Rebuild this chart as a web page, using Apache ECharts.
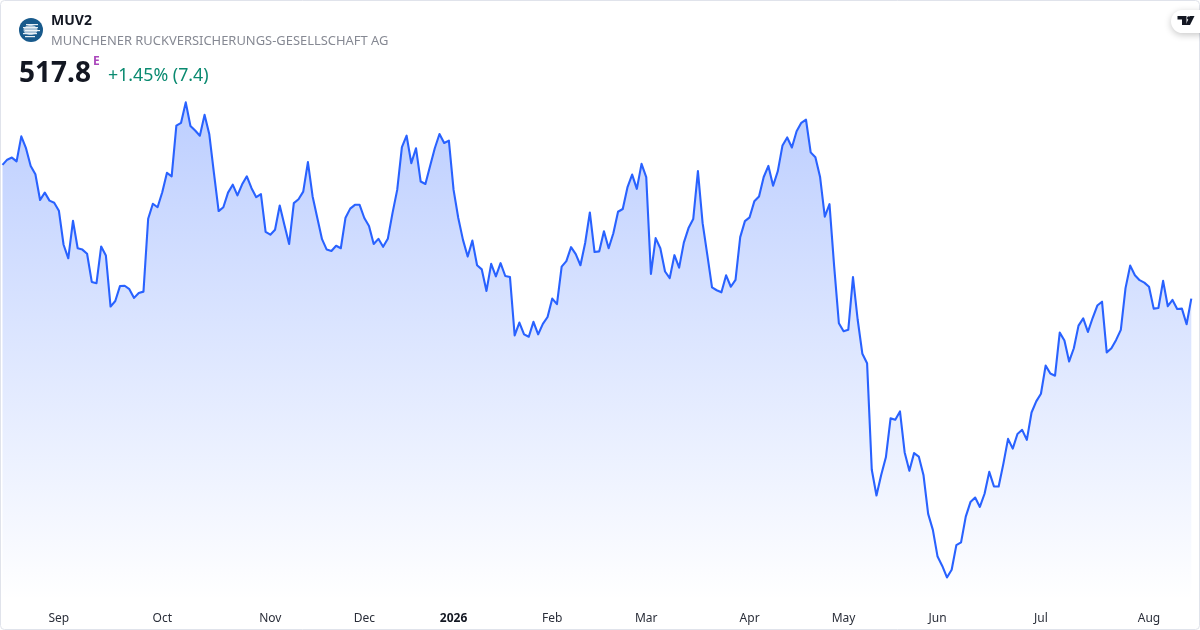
<!DOCTYPE html>
<html>
<head>
<meta charset="utf-8">
<style>html,body{margin:0;padding:0;background:#fff}#c{width:1200px;height:630px}</style>
<script src="https://cdn.jsdelivr.net/npm/echarts@6/dist/echarts.min.js"></script>
</head>
<body>
<div id="c"></div>
<script>
const prices = [
556.3,557.8,558.4,557.3,564.5,561.1,556.0,553.6,546.2,548.3,546.0,545.4,543.1,533.3,529.4,540.2,532.3,531.9,530.7,522.6,
522.2,532.8,530.2,515.5,517.1,521.4,521.5,520.5,518.0,519.4,519.8,540.8,545.1,544.1,548.4,554.0,553.0,567.6,568.4,574.3,
567.5,566.2,564.7,570.7,565.2,553.9,543.0,544.1,548.3,550.6,547.5,550.7,553.0,549.6,547.0,547.9,537.0,536.2,537.6,544.6,
539.0,533.5,545.3,546.4,548.6,557.1,547.2,541.0,534.9,531.9,531.5,533.0,532.3,541.1,543.7,544.8,544.8,541.0,538.7,533.5,
535.0,532.7,535.0,542.4,549.1,
561.4,564.7,556.8,561.1,551.5,550.8,556.0,561.1,565.2,562.6,563.3,549.1,541.0,534.7,529.9,534.5,527.4,526.2,520.0,527.8,
524.2,528.0,524.3,524.0,507.2,510.9,507.5,506.8,511.1,507.5,510.5,512.5,517.8,516.2,527.0,528.6,532.6,530.6,527.4,533.8,
542.6,531.2,531.4,537.2,532.3,536.6,542.8,543.6,549.8,553.5,549.4,556.6,552.8,524.9,535.2,532.3,525.6,523.7,530.3,526.7,
533.9,538.1,540.7,554.5,539.5,530.4,521.0,520.2,519.6,524.5,521.2,523.2,535.5,540.1,541.2,545.8,547.2,552.8,556.0,550.3,
554.5,561.9,564.2,561.3,566.0,568.4,569.3,559.9,558.5,552.8,541.4,545.0,527.0,
510.7,508.4,508.8,524.0,511.7,501.9,499.2,468.5,461.1,467.0,472.1,483.3,482.9,485.3,473.5,468.2,473.3,472.3,467.0,455.8,
451.2,443.5,440.8,437.5,439.7,446.8,447.6,455.0,459.2,460.5,457.8,461.6,467.9,463.7,463.7,470.2,477.4,474.6,478.8,480.0,
477.1,485.0,488.2,490.4,498.5,496.2,495.6,508.0,505.7,499.7,503.5,510.0,512.1,508.2,512.2,515.8,516.9,502.3,503.5,505.9,
508.8,520.8,527.3,524.5,523.1,522.4,521.2,514.9,515.1,522.9,515.6,517.4,514.8,514.9,510.4,517.8
];
const tickLabels = ['Sep','Oct','Nov','Dec','2026','Feb','Mar','Apr','May','Jun','Jul','Aug'];
const tickIndexes = [12,34,57,77,96,117,137,159,179,199,221,244];
const ticker = 'MUV2';
const companyName = 'MUNCHENER RUCKVERSICHERUNGS-GESELLSCHAFT AG';
const lastPrice = '517.8';
const changeText = '+1.45% (7.4)';

const categories = prices.map((_, i) => {
  const k = tickIndexes.indexOf(i);
  return k >= 0 ? tickLabels[k] : String(i);
});
const FONT = '"Noto Sans", sans-serif';
const chart = echarts.init(document.getElementById('c'), null, {renderer: 'canvas'});
chart.setOption({
  animation: false,
  backgroundColor: '#ffffff',
  grid: {left: 2.5, right: 8.7, top: 60, height: 540, containLabel: false},
  xAxis: {
    type: 'category',
    boundaryGap: false,
    data: categories,
    axisLine: {show: false},
    axisTick: {show: false},
    splitLine: {show: false},
    axisLabel: {
      interval: (i) => tickIndexes.includes(i),
      hideOverlap: false,
      margin: 13,
      fontFamily: FONT,
      fontSize: 12,
      color: '#2a2e39',
      formatter: (v) => v === '2026' ? '{b|2026}' : v,
      rich: {b: {fontFamily: FONT, fontSize: 12, fontWeight: 'bold', color: '#131722'}}
    }
  },
  yAxis: {type: 'value', min: 431, max: 586.5, show: false, splitLine: {show: false}},
  series: [{
    type: 'line',
    data: prices,
    symbol: 'none',
    smooth: false,
    lineStyle: {color: '#2962ff', width: 2.1, join: 'round'},
    areaStyle: {
      origin: 'start',
      opacity: 1,
      color: new echarts.graphic.LinearGradient(0, 102, 0, 600, [
        {offset: 0, color: 'rgba(41,98,255,0.31)'},
        {offset: 1, color: 'rgba(41,98,255,0)'}
      ], true)
    },
    z: 2
  }],
  graphic: [
    {type: 'rect', silent: true, z: 100,
     shape: {x: 0.5, y: 0.5, width: 1199, height: 629, r: 4},
     style: {fill: 'none', stroke: '#e0e3eb', lineWidth: 1}},
    {type: 'circle', z: 101, shape: {cx: 31, cy: 30, r: 12}, style: {fill: '#185a8c'}},
    {type: 'ellipse', z: 102, shape: {cx: 30.5, cy: 30, rx: 7, ry: 5}, style: {fill: '#a9c3d8'}},
    {type: 'rect', z: 103, shape: {x: 26, y: 24, width: 12, height: 1.2}, style: {fill: '#e8f0f6'}},
    {type: 'rect', z: 103, shape: {x: 23, y: 27, width: 15, height: 1.2}, style: {fill: '#e8f0f6'}},
    {type: 'rect', z: 103, shape: {x: 25, y: 30, width: 15, height: 1.2}, style: {fill: '#eef4f8'}},
    {type: 'rect', z: 103, shape: {x: 23, y: 33, width: 14, height: 1.2}, style: {fill: '#e8f0f6'}},
    {type: 'rect', z: 103, shape: {x: 25, y: 36, width: 10, height: 1.2}, style: {fill: '#e8f0f6'}},
    {type: 'text', z: 101, x: 51, y: 21.5, style: {text: ticker, font: 'bold 14px ' + FONT, fill: '#131722', textVerticalAlign: 'middle'}},
    {type: 'text', z: 101, x: 51, y: 41, style: {text: companyName, font: '12.93px ' + FONT, fill: '#868993', textVerticalAlign: 'middle'}},
    {type: 'text', z: 101, x: 19, y: 74, style: {text: lastPrice, font: 'bold 28px ' + FONT, fill: '#131722', textVerticalAlign: 'middle'}},
    {type: 'text', z: 101, x: 93, y: 62, style: {text: 'E', font: 'bold 12px ' + FONT, fill: '#ab47bc', textVerticalAlign: 'middle'}},
    {type: 'text', z: 101, x: 108, y: 75.5, style: {text: changeText, font: '17.8px ' + FONT, fill: '#0a8a70', textVerticalAlign: 'middle'}},
    {type: 'rect', z: 103, shape: {x: 1171, y: 10, width: 40, height: 23, r: 11.5},
     style: {fill: '#fff', shadowBlur: 7, shadowColor: 'rgba(0,0,0,0.22)', shadowOffsetY: 2}},
    {type: 'rect', z: 104, shape: {x: 1200, y: 0, width: 10, height: 60}, style: {fill: '#fff'}},
    {type: 'polygon', z: 105, shape: {points: [[1177.5,16],[1186.5,16],[1186.5,25],[1182,25],[1182,19.5],[1177.5,19.5]]}, style: {fill: '#131722'}},
    {type: 'circle', z: 105, shape: {cx: 1188.8, cy: 18, r: 1.8}, style: {fill: '#131722'}},
    {type: 'polygon', z: 105, shape: {points: [[1190,16],[1194.5,16],[1190,25],[1185.5,25]]}, style: {fill: '#131722'}}
  ]
});
</script>
</body>
</html>
